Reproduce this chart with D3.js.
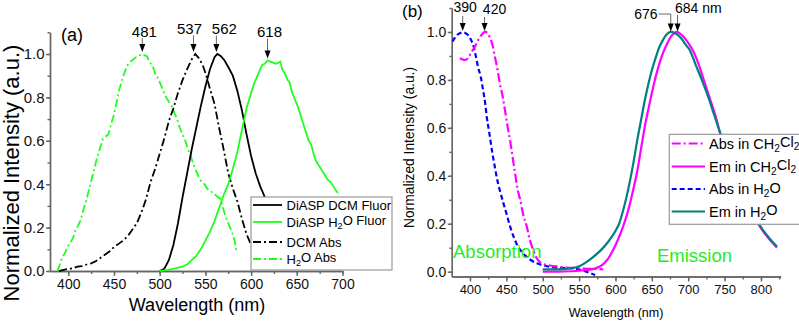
<!DOCTYPE html>
<html>
<head>
<meta charset="utf-8">
<title>DiASP spectra</title>
<script src="https://d3js.org/d3.v7.min.js"></script>
<style>
  body { margin: 0; background: #fff; }
  svg { font-family: Arial, "Liberation Sans", sans-serif; }
  .axis path, .axis line { stroke: #666; stroke-width: 1.4px; }
  .axis text { fill: #111; }
  .legend rect { fill: #fff; stroke: #999; stroke-width: 1.2px; }
</style>
</head>
<body>
<svg id="chart" width="799" height="321"></svg>
<script>
// ---- panel (a) data : [wavelength nm, normalized intensity]
var dcmFluor = [[500,0],[505,0.01],[510,0.05],[515,0.12],[520,0.22],[525,0.34],[530,0.45],[535,0.56],
  [540,0.66],[545,0.76],[550,0.85],[555,0.93],[560,0.985],[563,1.0],[567,0.99],[571,0.97],[575,0.94],
  [580,0.9],[585,0.83],[590,0.74],[595,0.63],[600,0.53],[605,0.45],[610,0.39],[615,0.34],[620,0.29],
  [630,0.21],[640,0.14],[650,0.09],[660,0.06],[680,0.02],[700,0.01]];
var h2oFluor = [[500,0],[505,0.003],[510,0.005],[515,0.01],[520,0.015],[525,0.02],[530,0.03],[535,0.05],
  [540,0.07],[545,0.1],[550,0.14],[555,0.18],[560,0.23],[565,0.29],[570,0.35],[575,0.4],[580,0.47],
  [585,0.55],[590,0.65],[595,0.75],[600,0.82],[603,0.86],[606,0.89],[609,0.92],[612,0.95],[615,0.955],
  [618,0.97],[621,0.965],[624,0.96],[627,0.955],[630,0.96],[632,0.965],[634,0.93],[637,0.91],[640,0.88],
  [642,0.87],[645,0.82],[648,0.79],[651,0.76],[654,0.72],[657,0.68],[660,0.64],[663,0.6],[666,0.58],
  [669,0.53],[672,0.5],[675,0.48],[678,0.46],[681,0.44],[684,0.42],[687,0.41],[690,0.39],[693,0.37],[695,0.36]];
var dcmAbs = [[390,0],[395,0.005],[400,0.01],[405,0.012],[410,0.02],[415,0.022],[420,0.03],[425,0.035],
  [430,0.045],[435,0.06],[440,0.075],[445,0.09],[450,0.11],[455,0.125],[460,0.14],[465,0.16],[470,0.19],
  [475,0.22],[480,0.27],[485,0.33],[490,0.41],[495,0.47],[500,0.54],[505,0.61],[510,0.69],[515,0.75],
  [520,0.82],[525,0.88],[530,0.93],[535,0.975],[539,1.0],[543,0.98],[547,0.95],[551,0.9],[555,0.84],
  [560,0.77],[565,0.66],[570,0.56],[575,0.45],[580,0.38],[585,0.32],[590,0.24],[595,0.17],[600,0.12],
  [605,0.08],[610,0.05],[620,0.02]];
var h2oAbs = [[388,0],[390,0.02],[393,0.06],[396,0.08],[399,0.11],[402,0.13],[405,0.15],[408,0.19],
  [411,0.21],[414,0.24],[417,0.29],[420,0.33],[423,0.38],[426,0.43],[429,0.48],[432,0.53],[435,0.57],
  [438,0.61],[441,0.62],[444,0.63],[447,0.68],[450,0.72],[453,0.78],[456,0.84],[459,0.88],[462,0.92],
  [465,0.95],[468,0.965],[471,0.975],[474,0.985],[477,0.99],[480,1.0],[483,0.995],[486,0.99],[489,0.96],
  [492,0.95],[495,0.91],[498,0.89],[501,0.86],[504,0.83],[507,0.8],[510,0.78],[513,0.76],[516,0.73],
  [519,0.7],[522,0.66],[525,0.63],[528,0.6],[531,0.56],[534,0.53],[537,0.49],[540,0.46],[543,0.43],
  [546,0.41],[549,0.4],[552,0.38],[555,0.37],[558,0.36],[561,0.35],[564,0.34],[567,0.33],[570,0.28],
  [573,0.24],[576,0.21],[579,0.18],[582,0.14],[584,0.09]];
var peaksA = [[481,1.0],[537,1.0],[562,1.0],[618,0.97]];

// ---- panel (b) data
var absCH2Cl2 = [[386,0.89],[390,0.885],[393,0.883],[397,0.89],[400,0.905],[404,0.925],[407,0.94],
  [411,0.965],[414,0.98],[418,0.995],[421,1.0],[424,0.995],[427,0.98],[431,0.945],[434,0.9],[438,0.84],
  [441,0.786],[445,0.73],[448,0.675],[452,0.6],[455,0.55],[459,0.47],[462,0.41],[465,0.35],[469,0.3],
  [473,0.24],[478,0.19],[482,0.135],[487,0.09],[491,0.06],[496,0.04],[503,0.03],[510,0.026],[519,0.022],
  [530,0.018],[540,0.016],[551,0.014],[565,0.012],[583,0.01]];
var absH2O = [[376,0.96],[379,0.975],[382,0.987],[386,0.995],[390,0.998],[394,0.995],[398,0.985],
  [401,0.97],[405,0.94],[408,0.9],[411,0.855],[415,0.81],[418,0.758],[421,0.7],[423,0.647],[426,0.59],
  [428,0.55],[431,0.49],[434,0.44],[437,0.39],[441,0.34],[446,0.285],[450,0.244],[455,0.19],[460,0.146],
  [466,0.105],[473,0.077],[482,0.052],[492,0.035],[503,0.025],[515,0.018],[530,0.015],[542,0.014],
  [552,0.008],[560,0.0],[566,-0.007],[572,-0.014]];
var emCH2Cl2 = [[500,0],[520,0],[540,0.002],[550,0.004],[560,0.007],[570,0.012],[580,0.024],[590,0.055],
  [600,0.11],[605,0.145],[610,0.185],[615,0.23],[620,0.285],[625,0.35],[630,0.42],[635,0.51],[640,0.6],
  [645,0.675],[650,0.745],[655,0.81],[660,0.865],[665,0.91],[670,0.945],[675,0.975],[680,0.993],[684,1.0],
  [690,0.99],[695,0.975],[700,0.955],[707,0.92],[715,0.86],[723,0.785],[730,0.72],[737,0.655],[745,0.565],
  [755,0.48],[765,0.4],[775,0.33],[785,0.265],[796,0.2],[805,0.16],[813,0.13],[822,0.1]];
var emH2O = [[500,0.01],[520,0.01],[540,0.015],[551,0.024],[560,0.04],[570,0.063],[580,0.09],[590,0.125],
  [600,0.17],[605,0.2],[610,0.25],[615,0.31],[620,0.38],[625,0.46],[630,0.55],[635,0.63],[640,0.71],
  [645,0.78],[650,0.84],[655,0.89],[660,0.935],[665,0.965],[670,0.988],[676,1.0],[682,0.995],[690,0.975],
  [697,0.945],[702,0.925],[710,0.865],[720,0.79],[728,0.725],[735,0.66],[745,0.57],[755,0.485],[765,0.405],
  [775,0.335],[785,0.27],[796,0.205],[805,0.165],[813,0.135],[822,0.105]];
var peaksB = [390, 420, 676, 684];

var svg = d3.select("#chart");

function addAxes(g, x, y, xMajor, xMinor, yMajor, yMinor, fs) {
  var h = y.range()[0], left = x.range()[0];
  g.append("g").attr("class", "axis").attr("transform", "translate(0," + h + ")")
    .call(d3.axisBottom(x).tickValues(xMinor).tickSize(3).tickFormat("").tickSizeOuter(0));
  g.append("g").attr("class", "axis").attr("transform", "translate(0," + h + ")")
    .call(d3.axisBottom(x).tickValues(xMajor).tickSize(5).tickPadding(3).tickSizeOuter(0))
    .selectAll("text").style("font-size", fs + "px");
  g.append("g").attr("class", "axis").attr("transform", "translate(" + left + ",0)")
    .call(d3.axisLeft(y).tickValues(yMinor).tickSize(2.5).tickFormat("").tickSizeOuter(0));
  g.append("g").attr("class", "axis").attr("transform", "translate(" + left + ",0)")
    .call(d3.axisLeft(y).tickValues(yMajor).tickSize(4).tickPadding(1.5).tickFormat(d3.format(".1f")).tickSizeOuter(0))
    .selectAll("text").style("font-size", fs + 1 + "px");
}

function arrow(g, x, y1, y2) {
  g.append("line").attr("x1", x).attr("x2", x).attr("y1", y1).attr("y2", y2 - 6)
    .attr("stroke", "#666").attr("stroke-width", 1);
  g.append("path").attr("d", "M" + (x - 3) + "," + (y2 - 8) + "L" + (x + 3) + "," + (y2 - 8) + "L" + x + "," + y2 + "Z")
    .attr("fill", "#000");
}

function legendText(t, txt) {
  // txt like "DiASP H_2O Fluor": underscore marks a subscript character
  var parts = txt.split(/_(\d)/);
  parts.forEach(function(p, i) {
    if (i % 2 === 1) t.append("tspan").attr("dy", "0.3em").style("font-size", "0.7em").text(p);
    else if (i > 0) t.append("tspan").attr("dy", "-0.3em").text(p);
    else t.append("tspan").text(p);
  });
}

// ================= panel (a) =================
var xA = d3.scaleLinear().domain([380, 700]).range([50, 342.5]);
var yA = d3.scaleLinear().domain([0, 1.1]).range([271, 32.3]);
var gA = svg.append("g");

addAxes(gA, xA, yA, d3.range(400, 701, 50), d3.range(400, 701, 25),
  d3.range(0, 1.01, 0.2), d3.range(0, 1.11, 0.1), 14);

var lineA = d3.line().x(function(d) { return xA(d[0]); }).y(function(d) { return yA(d[1]); });
var green = "#1eff1e";
var seriesA = [
  {data: h2oAbs, color: green, dash: "8,3,2,3", label: "H_2O Abs"},
  {data: dcmAbs, color: "#000", dash: "8,3,2,3", label: "DCM Abs"},
  {data: dcmFluor, color: "#000", dash: null, label: "DiASP DCM Fluor"},
  {data: h2oFluor, color: green, dash: null, label: "DiASP H_2O Fluor"}
];
seriesA.forEach(function(s) {
  gA.append("path").attr("d", lineA(s.data)).attr("fill", "none")
    .attr("stroke", s.color).attr("stroke-width", 1.8)
    .attr("stroke-dasharray", s.dash);
});

// peak markers (a)
var nudgeA = [2, -4, 8, 2], baseA = [36.5, 34, 34, 37];
peaksA.forEach(function(p, i) {
  var x = xA(p[0]);
  arrow(gA, x, baseA[i] + 1.5, yA(p[1]) - 2);
  gA.append("text").attr("x", x + nudgeA[i]).attr("y", baseA[i]).attr("text-anchor", "middle")
    .style("font-size", "15px").text(p[0]);
});
gA.append("text").attr("x", 61).attr("y", 41).style("font-size", "18px").text("(a)");

// legend (a)
var legA = gA.append("g").attr("class", "legend");
legA.append("rect").attr("x", 251).attr("y", 197).attr("width", 141).attr("height", 73);
var orderA = [seriesA[2], seriesA[3], seriesA[1], seriesA[0]], rowsA = [205, 222, 242, 259];
orderA.forEach(function(s, i) {
  legA.append("line").attr("x1", 253).attr("x2", 282).attr("y1", rowsA[i]).attr("y2", rowsA[i])
    .attr("stroke", s.color).attr("stroke-width", 1.8).attr("stroke-dasharray", s.dash);
  legendText(legA.append("text").attr("x", 286.5).attr("y", rowsA[i] + 4.5).style("font-size", "13px"), s.label);
});

gA.append("text").attr("x", 197).attr("y", 311).attr("text-anchor", "middle")
  .style("font-size", "18px").text("Wavelength (nm)");
gA.append("text").attr("transform", "translate(18.5,173) rotate(-90)").attr("text-anchor", "middle")
  .style("font-size", "22px").text("Normalized Intensity (a.u.)");

// ================= panel (b) =================
var xB = d3.scaleLinear().domain([375, 827]).range([451.8, 780.6]);
var yB = d3.scaleLinear().domain([-0.02, 1.1]).range([276.5, 8]);
var gB = svg.append("g");

addAxes(gB, xB, yB, d3.range(400, 801, 50), d3.range(400, 826, 25),
  d3.range(0, 1.01, 0.2), d3.range(0, 1.11, 0.1), 13);

var lineB = d3.line().curve(d3.curveMonotoneX)
  .x(function(d) { return xB(d[0]); }).y(function(d) { return yB(d[1]); });
var seriesB = [
  {data: absH2O, color: "#0000ff", dash: "5,3", label: "Abs in H_2O"},
  {data: absCH2Cl2, color: "#ff00ff", dash: "9,3,2,3", label: "Abs in CH_2Cl_2"},
  {data: emCH2Cl2, color: "#ff00ff", dash: null, label: "Em in CH_2Cl_2"},
  {data: emH2O, color: "#008080", dash: null, label: "Em in H_2O"}
];
seriesB.forEach(function(s) {
  gB.append("path").attr("d", lineB(s.data)).attr("fill", "none")
    .attr("stroke", s.color).attr("stroke-width", 2.2)
    .attr("stroke-dasharray", s.dash);
});

// peak markers (b)
arrow(gB, xB(peaksB[0]), 16, yB(1) - 1);
gB.append("text").attr("x", xB(peaksB[0]) + 2.5).attr("y", 12).attr("text-anchor", "middle")
  .style("font-size", "14px").text(peaksB[0]);
arrow(gB, xB(peaksB[1]), 17, yB(1) - 1);
gB.append("text").attr("x", xB(peaksB[1]) + 10).attr("y", 14).attr("text-anchor", "middle")
  .style("font-size", "14px").text(peaksB[1]);
var x676 = xB(peaksB[2]), x684 = xB(peaksB[3]);
gB.append("path").attr("d", "M658.5,14H" + x676).attr("stroke", "#666").attr("fill", "none");
arrow(gB, x676, 14, yB(1) - 0.5);
gB.append("text").attr("x", 657.5).attr("y", 18.5).attr("text-anchor", "end")
  .style("font-size", "14px").text(peaksB[2]);
arrow(gB, x684 + 1, 15, yB(1) - 0.5);
gB.append("text").attr("x", 675).attr("y", 13).style("font-size", "14px").text(peaksB[3] + " nm");
gB.append("text").attr("x", 402).attr("y", 17).style("font-size", "17px").text("(b)");

gB.append("text").attr("x", 453).attr("y", 258).attr("fill", "#1eee1e")
  .style("font-size", "18.5px").text("Absorption");
gB.append("text").attr("x", 657).attr("y", 261.5).attr("fill", "#1eee1e")
  .style("font-size", "18.5px").text("Emission");

// legend (b)
var legB = gB.append("g").attr("class", "legend");
legB.append("rect").attr("x", 669.3).attr("y", 134.3).attr("width", 140).attr("height", 90);
var orderB = [seriesB[1], seriesB[2], seriesB[0], seriesB[3]], rowsB = [143.5, 166.5, 189, 211.5];
orderB.forEach(function(s, i) {
  legB.append("line").attr("x1", 671.7).attr("x2", 705).attr("y1", rowsB[i]).attr("y2", rowsB[i])
    .attr("stroke", s.color).attr("stroke-width", 2.2).attr("stroke-dasharray", s.dash);
  legendText(legB.append("text").attr("x", 709).attr("y", rowsB[i] + 5).style("font-size", "14.5px"), s.label);
});

gB.append("text").attr("x", 616).attr("y", 317).attr("text-anchor", "middle")
  .style("font-size", "12.5px").text("Wavelength (nm)");
gB.append("text").attr("transform", "translate(414,147.5) rotate(-90)").attr("text-anchor", "middle")
  .style("font-size", "13.8px").text("Normalized Intensity (a.u.)");
</script>
</body>
</html>
